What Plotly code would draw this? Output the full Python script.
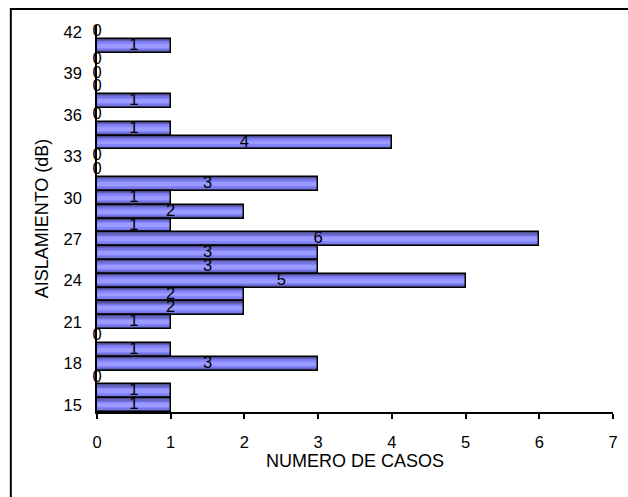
import plotly.graph_objects as go

# Sound insulation classes (dB) and number of cases in each class
aislamiento_db = list(range(15, 43))
numero_casos = [1, 1, 0, 3, 1, 0, 1, 2, 2, 5, 3, 3, 6, 1, 2, 1, 3, 0, 0, 4, 1, 0, 1, 0, 0, 0, 1, 0]
y_ticks = list(range(15, 43, 3))
x_ticks = list(range(0, 8))

FONT = "Liberation Sans, Arial, sans-serif"

fig = go.Figure()

# Shaded bar body: stacked bands of decreasing height give a banded fill
bands = [
    (1.00, "#4d4d90"),
    (0.84, "#6464bc"),
    (0.66, "#7676e4"),
    (0.48, "#8484fc"),
    (0.28, "#9a9aff"),
]
for width, color in bands:
    fig.add_trace(go.Bar(
        x=numero_casos, y=aislamiento_db, orientation="h",
        width=width, marker=dict(color=color, line=dict(width=0)),
        hoverinfo="skip", showlegend=False,
    ))

# Black outline of each bar
fig.add_trace(go.Bar(
    x=numero_casos, y=aislamiento_db, orientation="h", width=1.0,
    marker=dict(color="rgba(0,0,0,0)", line=dict(color="black", width=1.5)),
    showlegend=False,
))

# Value labels centred on each bar (zero labels sit on the axis line)
fig.add_trace(go.Scatter(
    x=[v / 2 for v in numero_casos], y=aislamiento_db,
    mode="text", text=[str(v) for v in numero_casos],
    textposition="middle center", cliponaxis=False,
    textfont=dict(family=FONT, size=16.5, color="black"),
    showlegend=False, hoverinfo="skip",
))

fig.update_layout(
    width=628, height=497,
    margin=dict(l=97, r=10, t=25, b=85),
    paper_bgcolor="white", plot_bgcolor="white",
    barmode="overlay", bargap=0,
    font=dict(family=FONT, size=16.5, color="black"),
    xaxis=dict(
        range=[0, 7], tickvals=x_ticks, showgrid=False, zeroline=False,
        showline=True, linecolor="black", linewidth=1.5,
        ticks="outside", ticklen=5, tickwidth=1.5, tickcolor="black",
        ticklabelstandoff=9,
        title=dict(text="NUMERO DE CASOS", standoff=2,
                   font=dict(size=18)),
    ),
    yaxis=dict(
        range=[14.5, 42.5], tickvals=y_ticks, showgrid=False, zeroline=False,
        showline=True, linecolor="black", linewidth=1.5,
        ticks="", ticklabelstandoff=10,
        title=dict(text="AISLAMIENTO (dB)", standoff=10,
                   font=dict(size=18)),
    ),
    shapes=[dict(
        type="rect", xref="paper", yref="paper",
        x0=-0.167, y0=-0.3, x1=1.2, y1=1.0413,
        line=dict(color="black", width=2), fillcolor="rgba(0,0,0,0)",
        layer="below",
    )],
)

fig.write_html("out.html")
